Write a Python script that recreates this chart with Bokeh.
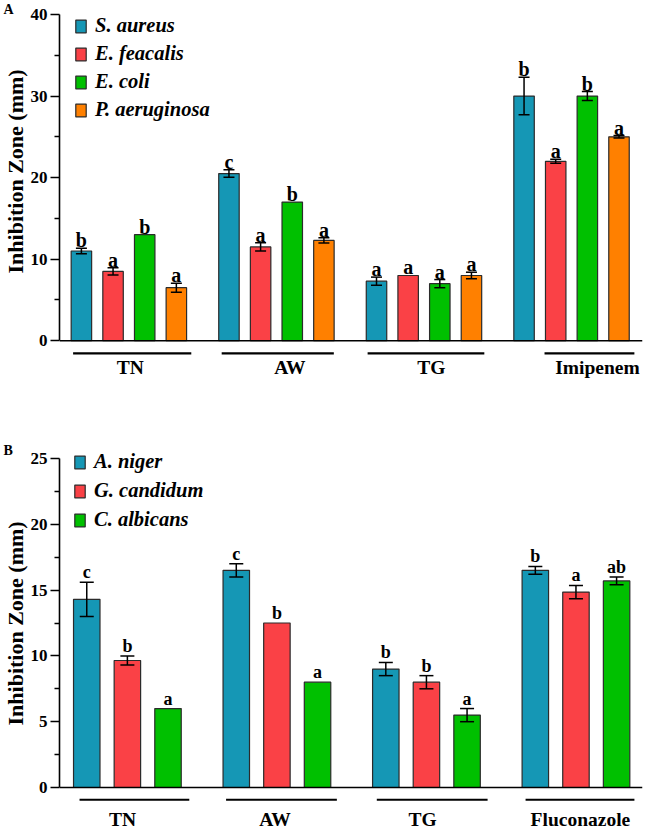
from bokeh.plotting import figure
from bokeh.models import (ColumnDataSource, Whisker, TeeHead, Legend, LegendItem,
                          Title, Span, FixedTicker, Range1d)
from bokeh.layouts import column
from bokeh.embed import file_html
from bokeh.resources import INLINE
from bokeh.core.properties import value

FONT = "Liberation Serif"

# ---------------- Panel A data (bacteria) ----------------
groups_a = ["TN", "AW", "TG", "Imipenem"]
species_a = ["S. aureus", "E. feacalis", "E. coli", "P. aeruginosa"]
a_s_aureus = [11.0, 20.5, 7.3, 30.0]
a_s_aureus_err = [0.35, 0.45, 0.5, 2.3]
a_s_aureus_sig = ["b", "c", "a", "b"]
a_e_feacalis = [8.5, 11.5, 8.0, 22.0]
a_e_feacalis_err = [0.45, 0.5, 0.0, 0.25]
a_e_feacalis_sig = ["a", "a", "a", "a"]
a_e_coli = [13.0, 17.0, 7.0, 30.0]
a_e_coli_err = [0.0, 0.0, 0.5, 0.55]
a_e_coli_sig = ["b", "b", "a", "b"]
a_p_aeruginosa = [6.5, 12.3, 8.0, 25.0]
a_p_aeruginosa_err = [0.55, 0.33, 0.4, 0.15]
a_p_aeruginosa_sig = ["a", "a", "a", "a"]
a_yticks = [0, 10, 20, 30, 40]
a_yminor = [5, 15, 25, 35]

# ---------------- Panel B data (fungi) ----------------
groups_b = ["TN", "AW", "TG", "Fluconazole"]
species_b = ["A. niger", "G. candidum", "C. albicans"]
b_a_niger = [14.3, 16.5, 9.0, 16.5]
b_a_niger_err = [1.3, 0.5, 0.5, 0.3]
b_a_niger_sig = ["c", "c", "b", "b"]
b_g_candidum = [9.65, 12.5, 8.0, 14.85]
b_g_candidum_err = [0.35, 0.0, 0.5, 0.5]
b_g_candidum_sig = ["b", "b", "b", "a"]
b_c_albicans = [6.0, 8.0, 5.5, 15.7]
b_c_albicans_err = [0.0, 0.0, 0.5, 0.3]
b_c_albicans_sig = ["a", "a", "a", "ab"]
b_yticks = [0, 5, 10, 15, 20, 25]
b_yminor = [2.5, 7.5, 12.5, 17.5, 22.5]

colors_a = ["#1597B5", "#FA4146", "#00C000", "#FF8000"]
colors_b = ["#1597B5", "#FA4146", "#00C000"]


def make_panel(tag, groups, species, means, errs, sigs, colors, ytop, yview_top,
               ybot, yticks, yminor, xr, height, border_top, bar_w, bar_step,
               under, lab_off, under_y, lab_y, cap, sig_off, sig_size,
               leg_loc, leg_pitch, ylab_shift, tag_standoff):
    p = figure(width=646, height=height, x_range=Range1d(*xr),
               y_range=Range1d(ybot, yview_top), output_backend="svg",
               toolbar_location=None, min_border_left=58, min_border_right=4,
               min_border_top=border_top, min_border_bottom=0,
               outline_line_color=None, background_fill_color="white")
    p.xaxis.visible = False
    p.grid.visible = False

    ax = p.yaxis[0]
    ax.bounds = (0, ytop)
    ax.ticker = FixedTicker(ticks=yticks, minor_ticks=yminor)
    ax.major_tick_out = 9
    ax.major_tick_in = 0
    ax.minor_tick_out = 5
    ax.minor_tick_in = 0
    ax.axis_line_width = 1.6
    ax.major_tick_line_width = 1.6
    ax.minor_tick_line_width = 1.6
    ax.major_label_standoff = 3
    ax.major_label_text_font = FONT
    ax.major_label_text_font_style = "bold"
    ax.major_label_text_font_size = "17px"
    ax.major_label_text_color = "black"

    # x axis line at zero
    p.add_layout(Span(location=0, dimension="width", line_color="black",
                      line_width=1.6, level="overlay"))

    n = len(species)
    items = []
    for k, sp in enumerate(species):
        xs = [g + (k - (n - 1) / 2) * bar_step for g in range(len(groups))]
        src = ColumnDataSource(dict(x=xs, top=means[k],
                                    upper=[m + e for m, e in zip(means[k], errs[k])],
                                    sig=sigs[k]))
        r = p.vbar(x="x", top="top", bottom=0, width=bar_w, source=src,
                   fill_color=colors[k], line_color="#2b2b2b", line_width=1.2)
        items.append(LegendItem(label=sp, renderers=[r]))
        keep = [i for i, e in enumerate(errs[k]) if e > 0]
        wsrc = ColumnDataSource(dict(x=[xs[i] for i in keep],
                                     upper=[means[k][i] + errs[k][i] for i in keep],
                                     lower=[means[k][i] - errs[k][i] for i in keep]))
        w = Whisker(base="x", upper="upper", lower="lower", source=wsrc,
                    line_color="black", line_width=1.5, level="overlay",
                    upper_head=TeeHead(size=cap, line_color="black", line_width=1.5),
                    lower_head=TeeHead(size=cap, line_color="black", line_width=1.5))
        p.add_layout(w)
        p.text(x="x", y="upper", text="sig", source=src, text_align="center",
               text_baseline="middle", y_offset=-sig_off,
               text_font=value(FONT), text_font_style="bold",
               text_font_size=sig_size, text_color="black")

    # group underlines and labels
    ux0 = [g + under[g][0] for g in range(len(groups))]
    ux1 = [g + under[g][1] for g in range(len(groups))]
    p.segment(x0=ux0, x1=ux1, y0=[under_y] * len(groups), y1=[under_y] * len(groups),
              line_color="black", line_width=2.2)
    p.text(x=[g + lab_off[g] for g in range(len(groups))], y=[lab_y] * len(groups),
           text=groups, text_align="center", text_baseline="middle",
           text_font=value(FONT), text_font_style="bold", text_font_size="19.5px",
           text_color="black")

    leg = Legend(items=items, location=leg_loc, orientation="vertical",
                 label_text_font=FONT, label_text_font_style="bold italic",
                 label_text_font_size="20.5px", label_text_color="black",
                 glyph_width=13, glyph_height=16, label_height=22,
                 spacing=leg_pitch - 22, padding=0, margin=0,
                 label_standoff=8, background_fill_alpha=0,
                 border_line_alpha=0)
    p.add_layout(leg)

    p.add_layout(Title(text="Inhibition Zone (mm)", align="left",
                       offset=ylab_shift, standoff=0,
                       text_font=FONT, text_font_style="bold",
                       text_font_size="22px", text_color="black"), "left")
    p.add_layout(Title(text=tag, align="left", offset=-56, standoff=tag_standoff,
                       text_font=FONT, text_font_style="bold",
                       text_font_size="14px", text_color="black"), "above")
    return p


pA = make_panel(
    "A", groups_a, species_a,
    [a_s_aureus, a_e_feacalis, a_e_coli, a_p_aeruginosa],
    [a_s_aureus_err, a_e_feacalis_err, a_e_coli_err, a_p_aeruginosa_err],
    [a_s_aureus_sig, a_e_feacalis_sig, a_e_coli_sig, a_p_aeruginosa_sig],
    colors_a, 40, 40, -5, a_yticks, a_yminor, (-0.4702, 3.481), 381, 14,
    0.1387, 0.2145,
    [(-0.378, 0.423), (-0.371, 0.389), (-0.382, 0.409), (-0.183, 0.426)],
    [0.01, 0.091, 0.05, 0.176], -1.56, -3.25, 11, 8, "20px",
    (15, 260), 27, 108, -5)

pB = make_panel(
    "B", groups_b, species_b,
    [b_a_niger, b_g_candidum, b_c_albicans],
    [b_a_niger_err, b_g_candidum_err, b_c_albicans_err],
    [b_a_niger_sig, b_g_candidum_sig, b_c_albicans_sig],
    colors_b, 25, 25.608, -3.343, b_yticks, b_yminor, (-0.454, 3.445), 450, 69,
    0.177, 0.2717,
    [(-0.320, 0.414), (-0.340, 0.401), (-0.332, 0.409), (-0.337, 0.391)],
    [-0.033, -0.013, -0.025, 0.03], -0.93, -2.45, 14, 10, "18px",
    (14, 300), 28, 106, -15)

layout = column(pA, pB, spacing=0)
open("out.html", "w").write(file_html(layout, INLINE))
